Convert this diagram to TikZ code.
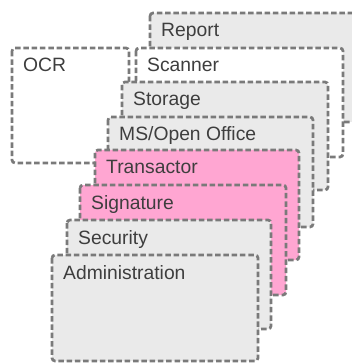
\documentclass[tikz,border=0pt]{standalone}
\usepackage{fontspec}
\setmainfont{Liberation Sans}
\definecolor{boxgray}{HTML}{EAEAEA}
\definecolor{boxpink}{HTML}{FFA6D2}
\definecolor{edgegray}{HTML}{7A7A7A}
\definecolor{txtgray}{HTML}{3E3E3E}
\tikzset{
  layer/.style={draw=edgegray,line width=2.7pt,line cap=butt,dash pattern=on 5.5pt off 2.8pt,rounded corners=3pt},
  tag/.style={anchor=base west,inner sep=0pt,text=txtgray}
}
\begin{document}
\begin{tikzpicture}[x=1pt,y=-1pt,font=\fontsize{19.3}{22}\selectfont,line join=round, line cap=round]
			\useasboundingbox (0,0) rectangle (351,363);
			% back to front
			\foreach \n/\l/\t/\r/\b/\c/\s in {report/150/13/362/122/boxgray/Report,
				scanner/136/48/343/157/white/Scanner,
				ocr/12/48/129/163/white/OCR,
				storage/122/82/328/190/boxgray/Storage,
				office/108/117/313/227/boxgray/{MS/Open Office},
				transactor/95/150/299/260/boxpink/Transactor,
				signature/80/185/286/295/boxpink/Signature,
				security/67/220/271/329/boxgray/Security,
				admin/52/255/258/361/boxgray/Administration}
			{
				\draw[layer,fill=\c] (\l,\t) rectangle (\r,\b);
				\node[tag] (\n) at (\l+11,\t+24) {\s};
			}
		\end{tikzpicture}
\end{document}
